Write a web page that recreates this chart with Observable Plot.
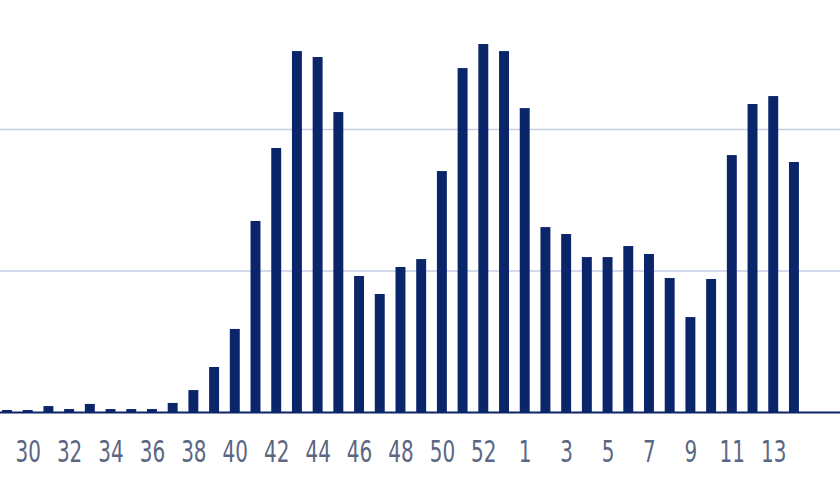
<!DOCTYPE html>
<html>
<head>
<meta charset="utf-8">
<script src="https://cdn.jsdelivr.net/npm/d3@7"></script>
<script src="https://cdn.jsdelivr.net/npm/@observablehq/plot@0.6"></script>
<style>
  html, body { margin: 0; padding: 0; background: #fff; }
  #chart svg { display: block; }
</style>
</head>
<body>
<div id="chart"></div>
<script>
// Week numbers (ISO weeks, 2020 week 29 .. 2021 week 14)
const weeks = [29, 30, 31, 32, 33, 34, 35, 36, 37, 38, 39, 40, 41, 42, 43, 44, 45, 46, 47, 48, 49, 50, 51, 52, 53,
               1, 2, 3, 4, 5, 6, 7, 8, 9, 10, 11, 12, 13, 14];
// Weekly values (gridlines at 1000 and 2000)
const values = [14, 14, 42, 21, 57, 21, 21, 21, 64, 155, 318, 587, 1350, 1866, 2551, 2509, 2120, 961, 834, 1025, 1081, 1703, 2431, 2601, 2551,
                2148, 1307, 1258, 1095, 1095, 1173, 1117, 947, 671, 940, 1816, 2177, 2233, 1767];
// Labelled weeks on the x axis
const tickWeeks = [30, 32, 34, 36, 38, 40, 42, 44, 46, 48, 50, 52, 1, 3, 5, 7, 9, 11, 13];
const gridValues = [1000, 2000];

const data = weeks.map((w, i) => ({week: w, value: values[i]}));

const navy = "#0b256b";

const plot = Plot.plot({
  width: 840,
  height: 494,
  marginTop: 0,
  marginBottom: 82,
  marginLeft: 0,
  marginRight: 0,
  style: {fontFamily: "DejaVu Sans", fontSize: "20px", color: "#5b6782", background: "#fff", overflow: "visible"},
  x: {type: "band", domain: weeks, range: [-3.36, 804.3], round: false, paddingInner: 0.52, paddingOuter: 0.26,
      ticks: tickWeeks, tickSize: 0, tickPadding: 28, label: null},
  y: {domain: [0, 2912], axis: null},
  marks: [
    Plot.ruleY(gridValues, {stroke: "#c5cee4", strokeWidth: 1.5}),
    Plot.barY(data, {x: "week", y: "value", fill: navy}),
    Plot.ruleY([0], {stroke: navy, strokeWidth: 2.2})
  ]
});

// Stretch tick labels vertically to match the tall, narrow digits of the reference
plot.querySelectorAll('[aria-label="x-axis tick label"] text').forEach(t => {
  const tr = t.getAttribute("transform") || "";
  t.setAttribute("transform", tr + " scale(1,1.5)");
});

document.getElementById("chart").appendChild(plot);
</script>
</body>
</html>
